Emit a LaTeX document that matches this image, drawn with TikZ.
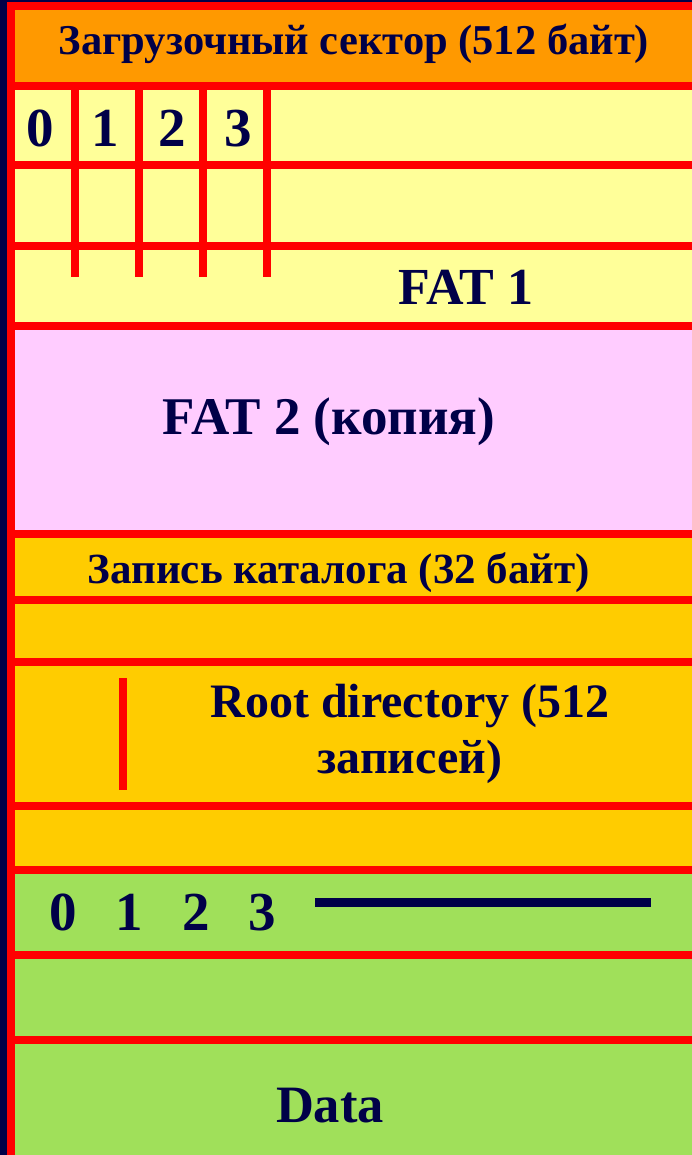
\documentclass[tikz,border=0pt]{standalone}
\usepackage{fontspec}
\setmainfont{Liberation Serif}
\usepackage{xcolor}
\usepackage{tikz}
\usetikzlibrary{positioning,calc}

\definecolor{navy}{HTML}{000048}
\definecolor{bootorange}{HTML}{FF9900}
\definecolor{fatyellow}{HTML}{FFFF99}
\definecolor{fatpink}{HTML}{FFCCFF}
\definecolor{dirgold}{HTML}{FFCC00}
\definecolor{datagreen}{HTML}{A0E05A}

\tikzset{
    redline/.style={draw=red, line width=8pt},
    label/.style={text=navy, font=\bfseries, anchor=base, inner sep=0pt},
}

\begin{document}
\begin{tikzpicture}[x=1pt,y=-1pt]
    \useasboundingbox (0,0) rectangle (692,1155);
    \clip (0,0) rectangle (692,1155);
    \fill[navy] (0,0) rectangle (692,1155);

    % Areas
    \fill[bootorange] (11,6) rectangle (692,86);
    \fill[fatyellow] (11,86) rectangle (692,326);
    \fill[fatpink] (11,326) rectangle (692,534);
    \fill[dirgold] (11,534) rectangle (692,870);
    \fill[datagreen] (11,870) rectangle (692,1160);

    % Row borders
    \draw[redline] (7,6) -- (692,6);
    \draw[redline] (7,86) -- (692,86);
    \draw[redline] (7,165) -- (692,165);
    \draw[redline] (7,246) -- (692,246);
    \draw[redline] (7,326) -- (692,326);
    \draw[redline] (7,534) -- (692,534);
    \draw[redline] (7,600) -- (692,600);
    \draw[redline] (7,662) -- (692,662);
    \draw[redline] (7,806) -- (692,806);
    \draw[redline] (7,870) -- (692,870);
    \draw[redline] (7,955) -- (692,955);
    \draw[redline] (7,1040) -- (692,1040);
    \draw[redline] (7,1159) -- (692,1159);
    \draw[redline] (11,2) -- (11,1160);

    % FAT cells
    \draw[redline] (75,86) -- (75,277);
    \draw[redline] (139,86) -- (139,277);
    \draw[redline] (203,86) -- (203,277);
    \draw[redline] (267,86) -- (267,277);

    % Directory entry mark
    \draw[redline] (123,678) -- (123,790);

    % Labels
    \node[label, font=\bfseries\fontsize{42.5}{50}\selectfont] (boot) at (354,55) {Загрузочный сектор (512 байт)};
    \node[label, font=\bfseries\fontsize{55}{66}\selectfont] (c0) at (40,147) {0};
    \node[label, font=\bfseries\fontsize{55}{66}\selectfont] (c1) at (105,147) {1};
    \node[label, font=\bfseries\fontsize{55}{66}\selectfont] (c2) at (172,147) {2};
    \node[label, font=\bfseries\fontsize{55}{66}\selectfont] (c3) at (238,147) {3};
    \node[label, font=\bfseries\fontsize{52}{62}\selectfont] (fatone) at (466,305) {FAT 1};
    \node[label, font=\bfseries\fontsize{53}{64}\selectfont] (fattwo) at (329,434) {FAT 2 (копия)};
    \node[label, font=\bfseries\fontsize{43}{52}\selectfont] (dirrec) at (339,583) {Запись каталога (32 байт)};
    \node[label, font=\bfseries\fontsize{48}{56}\selectfont] (rootone) at (410,717) {Root directory (512};
    \node[label, font=\bfseries\fontsize{48}{56}\selectfont] (roottwo) at (410,773) {записей)};
    \node[label, font=\bfseries\fontsize{55}{66}\selectfont] (d0) at (63,930) {0};
    \node[label, font=\bfseries\fontsize{55}{66}\selectfont] (d1) at (129,930) {1};
    \node[label, font=\bfseries\fontsize{55}{66}\selectfont] (d2) at (196,930) {2};
    \node[label, font=\bfseries\fontsize{55}{66}\selectfont] (d3) at (262,930) {3};
    \node[label, font=\bfseries\fontsize{52.5}{62}\selectfont] (data) at (330,1122) {Data};

    % Cluster chain
    \coordinate (chainstart) at (315,902);
    \coordinate (chainend) at (651,902);
    \draw[navy, line width=9pt] (chainstart) -- (chainend);
\end{tikzpicture}
\end{document}
